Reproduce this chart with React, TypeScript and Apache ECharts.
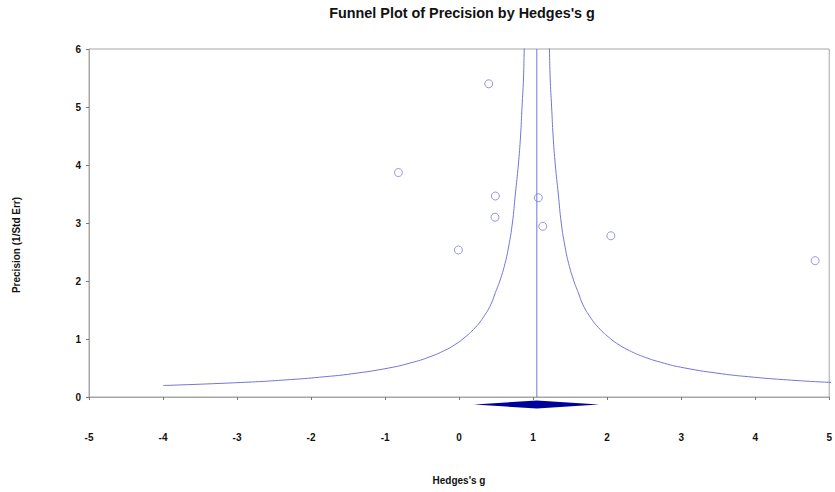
import React, { useEffect, useRef } from "react";
import * as echarts from "echarts";

// Study effect sizes (Hedges's g) and precision (1/SE)
const studyG = [0.4, -0.82, 0.49, 0.485, -0.01, 1.07, 1.13, 2.05, 4.81];
const studyPrecision = [5.4, 3.87, 3.465, 3.1, 2.535, 3.435, 2.943, 2.78, 2.35];

// Funnel boundaries
const funnelPrecision = [0.198, 0.25, 0.3, 0.35, 0.4, 0.5, 0.6, 0.7, 0.8, 0.9, 1.0, 1.2, 1.4, 1.6, 1.8, 2.0, 2.3, 2.6, 3.0, 3.5, 4.0, 4.5, 5.0, 5.5, 6.0, 6.3];
const funnelLeft = [-4.0, -2.95, -2.28, -1.81, -1.45, -0.95, -0.62, -0.38, -0.2, -0.06, 0.05, 0.22, 0.34, 0.43, 0.49, 0.55, 0.62, 0.67, 0.72, 0.76, 0.8, 0.83, 0.85, 0.87, 0.88, 0.89];
const funnelRight = [6.1, 5.05, 4.38, 3.91, 3.55, 3.05, 2.72, 2.48, 2.3, 2.16, 2.05, 1.88, 1.76, 1.67, 1.61, 1.55, 1.48, 1.43, 1.38, 1.34, 1.3, 1.27, 1.25, 1.23, 1.22, 1.21];

// Combined effect
const meanG = 1.05;
const ciLower = 0.2;
const ciUpper = 1.89;
const diamondY = -0.13;
const diamondHalf = 0.07;

const xTicks = { min: -5, max: 5, step: 1 };
const yTicks = { min: 0, max: 6, step: 1 };

export default function App() {
  const ref = useRef<HTMLDivElement>(null);
  useEffect(() => {
    document.body.style.margin = "0";
    const chart = echarts.init(ref.current!, null, { renderer: "svg" });
    const lineColor = "#7474d8";
    const axisColor = "#a6a6a6";
    const labelStyle = { color: "#111", fontWeight: "bold" as const, fontSize: 10, fontFamily: "Liberation Sans, Arial, sans-serif" };
    chart.setOption({
      animation: false,
      backgroundColor: "#fff",
      grid: { left: 89, right: 2, top: 49, bottom: 95, show: true, borderColor: axisColor, borderWidth: 1 },
      xAxis: {
        type: "value",
        min: xTicks.min,
        max: xTicks.max,
        interval: xTicks.step,
        splitLine: { show: false },
        axisLine: { show: true, onZero: false, lineStyle: { color: axisColor } },
        axisTick: { show: true, length: 3, lineStyle: { color: "#777" } },
        axisLabel: { ...labelStyle, margin: 35 },
      },
      yAxis: {
        type: "value",
        min: yTicks.min,
        max: yTicks.max,
        interval: yTicks.step,
        splitLine: { show: false },
        axisLine: { show: true, onZero: false, lineStyle: { color: axisColor } },
        axisTick: { show: true, length: 3, lineStyle: { color: "#777" } },
        axisLabel: { ...labelStyle, margin: 8 },
      },
      graphic: [
        {
          type: "text",
          x: 462,
          y: 13,
          style: {
            text: "Funnel Plot of Precision by Hedges's g",
            fill: "#111",
            font: "bold 14.4px 'Liberation Sans', Arial, sans-serif",
            align: "center",
            verticalAlign: "middle",
          },
        },
        {
          type: "text",
          x: 459,
          y: 480,
          style: {
            text: "Hedges's g",
            fill: "#111",
            font: "bold 10px 'Liberation Sans', Arial, sans-serif",
            align: "center",
            verticalAlign: "middle",
          },
        },
        {
          type: "text",
          x: 16,
          y: 245,
          rotation: Math.PI / 2,
          style: {
            text: "Precision (1/Std Err)",
            fill: "#111",
            font: "bold 10px 'Liberation Sans', Arial, sans-serif",
            align: "center",
            verticalAlign: "middle",
          },
        },
      ],
      series: [
        {
          type: "line",
          data: funnelPrecision.map((p, i) => [funnelLeft[i], p]),
          showSymbol: false,
          smooth: true,
          clip: true,
          lineStyle: { color: lineColor, width: 1 },
        },
        {
          type: "line",
          data: funnelPrecision.map((p, i) => [funnelRight[i], p]),
          showSymbol: false,
          smooth: true,
          clip: true,
          lineStyle: { color: lineColor, width: 1 },
        },
        {
          type: "line",
          data: [[meanG, yTicks.min], [meanG, yTicks.max]],
          showSymbol: false,
          lineStyle: { color: lineColor, width: 1 },
        },
        {
          type: "scatter",
          data: studyG.map((g, i) => [g, studyPrecision[i]]),
          symbol: "circle",
          symbolSize: 8,
          itemStyle: { color: "#fff", borderColor: "#7c7cdc", borderWidth: 1 },
        },
        {
          type: "custom",
          clip: false,
          data: [[meanG, ciLower, ciUpper, diamondY, diamondHalf]],
          encode: { x: [0, 1, 2], y: 3 },
          renderItem: (params: any, api: any) => {
            const c = api.coord([api.value(0), api.value(3)]);
            const l = api.coord([api.value(1), api.value(3)]);
            const r = api.coord([api.value(2), api.value(3)]);
            const t = api.coord([api.value(0), api.value(3) + api.value(4)]);
            const h = c[1] - t[1];
            return {
              type: "polygon",
              shape: { points: [[l[0], c[1]], [c[0], c[1] - h], [r[0], c[1]], [c[0], c[1] + h]] },
              style: { fill: "#00009c" },
            };
          },
        },
      ],
    });
    return () => chart.dispose();
  }, []);
  return <div ref={ref} style={{ width: 835, height: 492 }} />;
}
